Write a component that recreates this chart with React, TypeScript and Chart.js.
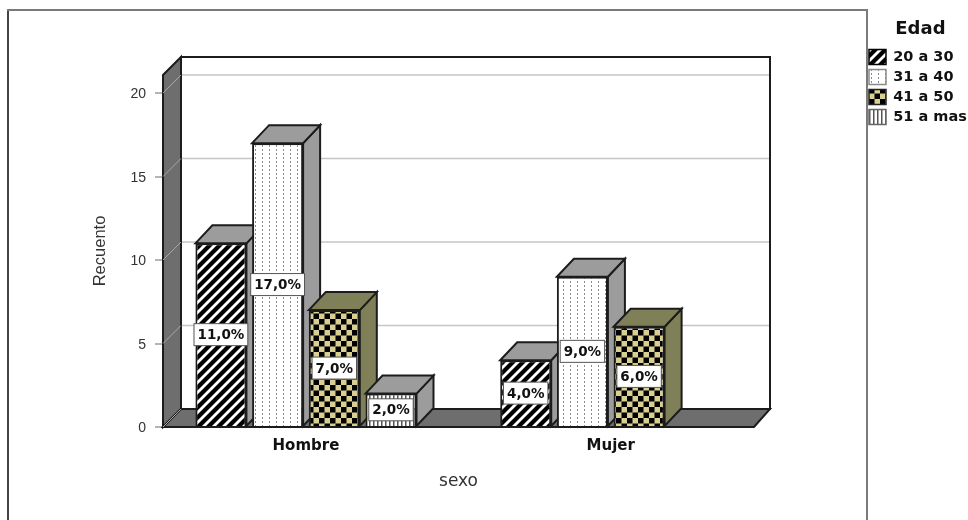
import React, { useEffect, useRef } from "react";
import { Chart, registerables } from "chart.js";

Chart.register(...registerables);

const categories = ["Hombre", "Mujer"];
const ageGroups = ["20 a 30", "31 a 40", "41 a 50", "51 a mas"];
const age20to30 = [11, 4];
const age31to40 = [17, 9];
const age41to50 = [7, 6];
const age51plus = [2, null];
const seriesValues = [age20to30, age31to40, age41to50, age51plus];

const DEPTH_X = 17;
const DEPTH_Y = 18;
const WALL = "#6e6e6e";
const EDGE = "#1c1c1c";
const sideColors = ["#9c9c9c", "#9c9c9c", "#808058", "#9c9c9c"];
const swatchEdges = ["#000", "#8a8a8a", "#222", "#666"];

// Builds a repeating tile for the bar fills.
function tile(w: number, h: number, paint: (c: CanvasRenderingContext2D) => void) {
  const cv = document.createElement("canvas");
  cv.width = w;
  cv.height = h;
  const c = cv.getContext("2d")!;
  paint(c);
  return c.createPattern(cv, "repeat")!;
}

function makePatterns() {
  const stripes = tile(10, 10, (c) => {
    c.fillStyle = "#000";
    c.fillRect(0, 0, 10, 10);
    c.strokeStyle = "#fff";
    c.lineWidth = 2.8;
    for (const o of [-10, 0, 10]) {
      c.beginPath();
      c.moveTo(o - 1, 11);
      c.lineTo(o + 11, -1);
      c.stroke();
    }
  });
  const dots = tile(7, 4, (c) => {
    c.fillStyle = "#fff";
    c.fillRect(0, 0, 7, 4);
    c.fillStyle = "#8a8a8a";
    c.fillRect(3, 1, 1, 2);
  });
  const checks = tile(11, 11, (c) => {
    c.fillStyle = "#d8cf90";
    c.fillRect(0, 0, 11, 11);
    c.fillStyle = "#000";
    c.fillRect(0, 0, 5.5, 5.5);
    c.fillRect(5.5, 5.5, 5.5, 5.5);
  });
  const bars = tile(4, 4, (c) => {
    c.fillStyle = "#fff";
    c.fillRect(0, 0, 4, 4);
    c.fillStyle = "#555";
    c.fillRect(1, 0, 1.5, 4);
  });
  return [stripes, dots, checks, bars];
}

// Outer frame, open along the bottom of the page.
const framePlugin = {
  id: "frame",
  beforeDraw(chart: Chart) {
    const { ctx } = chart;
    ctx.save();
    ctx.lineWidth = 2;
    ctx.strokeStyle = "#7a7a7a";
    ctx.beginPath();
    ctx.moveTo(8, 520);
    ctx.lineTo(8, 10);
    ctx.lineTo(867, 10);
    ctx.lineTo(867, 520);
    ctx.stroke();
    ctx.strokeStyle = "#333";
    ctx.lineWidth = 1.5;
    ctx.beginPath();
    ctx.moveTo(8, 520);
    ctx.lineTo(8, 11);
    ctx.stroke();
    ctx.restore();
  },
};

// Moves the legend into the margin on the right of the frame.
const legendPlacement = {
  id: "legendPlacement",
  afterLayout(chart: Chart) {
    const legend = chart.legend as any;
    const w = legend.width;
    const h = legend.height;
    legend.left = 864;
    legend.right = 864 + w;
    legend.top = 20;
    legend.bottom = 20 + h;
  },
};

function polygon(ctx: CanvasRenderingContext2D, pts: number[][], fill: string) {
  ctx.beginPath();
  pts.forEach(([x, y], i) => (i ? ctx.lineTo(x, y) : ctx.moveTo(x, y)));
  ctx.closePath();
  ctx.fillStyle = fill;
  ctx.fill();
  ctx.stroke();
}

// Draws the box behind the plot and the top and side faces of each bar.
const depthPlugin = {
  id: "depth",
  beforeDatasetsDraw(chart: Chart) {
    const { ctx, chartArea: a, scales } = chart;
    const dx = 18;
    const dy = 18;
    ctx.save();
    ctx.lineJoin = "miter";

    ctx.strokeStyle = EDGE;
    ctx.lineWidth = 2;
    polygon(ctx, [[a.left + dx, a.top - dy], [a.right + dx - 2, a.top - dy], [a.right + dx - 2, a.bottom - dy], [a.left + dx, a.bottom - dy]], "#fff");

    // Grid lines across the back wall.
    const ticks = (scales.y as any).ticks as { value: number }[];
    ctx.lineWidth = 1.5;
    ctx.strokeStyle = "#c6c6c6";
    for (const t of ticks) {
      if (t.value === 0) continue;
      const py = scales.y.getPixelForValue(t.value);
      ctx.beginPath();
      ctx.moveTo(a.left + dx, py - dy);
      ctx.lineTo(a.right + dx - 3, py - dy);
      ctx.stroke();
    }

    ctx.strokeStyle = EDGE;
    ctx.lineWidth = 2;
    polygon(ctx, [[a.left, a.top], [a.left + dx, a.top - dy], [a.left + dx, a.bottom - dy], [a.left, a.bottom]], WALL);
    polygon(ctx, [[a.left, a.bottom], [a.left + dx, a.bottom - dy], [a.right + dx - 2, a.bottom - dy], [a.right, a.bottom]], WALL);

    // Grid lines continuing down the left wall.
    ctx.lineWidth = 1;
    ctx.strokeStyle = "#a9a9a9";
    for (const t of ticks) {
      const py = scales.y.getPixelForValue(t.value);
      ctx.beginPath();
      ctx.moveTo(a.left, py);
      ctx.lineTo(a.left + dx, py - dy);
      ctx.stroke();
    }

    ctx.strokeStyle = EDGE;
    ctx.lineWidth = 2;
    chart.data.datasets.forEach((ds, di) => {
      chart.getDatasetMeta(di).data.forEach((el: any, i: number) => {
        if ((ds.data[i] as any)?.y == null) return;
        const l = el.x - el.width / 2;
        const r = el.x + el.width / 2;
        const t = el.y;
        const b = el.base;
        polygon(ctx, [[r, t], [r + DEPTH_X, t - DEPTH_Y], [r + DEPTH_X, b - DEPTH_Y], [r, b]], sideColors[di]);
        polygon(ctx, [[l, t], [l + DEPTH_X, t - DEPTH_Y], [r + DEPTH_X, t - DEPTH_Y], [r, t]], sideColors[di]);
      });
    });
    ctx.restore();
  },
  // Percentage tag centred on each bar.
  afterDatasetsDraw(chart: Chart) {
    const { ctx } = chart;
    ctx.save();
    ctx.font = "bold 13.5px 'DejaVu Sans'";
    ctx.textAlign = "center";
    ctx.textBaseline = "middle";
    chart.data.datasets.forEach((ds, di) => {
      chart.getDatasetMeta(di).data.forEach((el: any, i: number) => {
        const v = (ds.data[i] as any)?.y;
        if (v == null) return;
        const text = `${v},0%`;
        const w = ctx.measureText(text).width + 7;
        const h = 22;
        const cy = (el.y + el.base) / 2;
        ctx.fillStyle = "#fff";
        ctx.strokeStyle = "#555";
        ctx.lineWidth = 1;
        ctx.fillRect(el.x - w / 2, cy - h / 2, w, h);
        ctx.strokeRect(el.x - w / 2, cy - h / 2, w, h);
        ctx.fillStyle = "#111";
        ctx.fillText(text, el.x, cy + 1);
      });
    });
    ctx.restore();
  },
};

export default function App() {
  const ref = useRef<HTMLCanvasElement>(null);

  useEffect(() => {
    const patterns = makePatterns();
    const chart = new Chart(ref.current!, {
      type: "bar",
      data: {
        datasets: ageGroups.map((label, di) => ({
          label,
          data: seriesValues[di].map((y, x) => ({ x, y })),
          backgroundColor: patterns[di],
          borderColor: EDGE,
          borderWidth: 2,
          categoryPercentage: 0.744,
          barPercentage: 0.9,
        })),
      },
      options: {
        responsive: false,
        animation: false,
        layout: { autoPadding: false, padding: { left: 0, top: 75, right: 214, bottom: 0 } },
        scales: {
          x: {
            type: "linear",
            offset: false,
            min: -0.469,
            max: 1.47,
            afterFit: (s: any) => { s.height = 93; },
            grid: { display: false },
            border: { display: false },
            ticks: {
              stepSize: 1,
              includeBounds: false,
              padding: 2,
              maxRotation: 0,
              autoSkip: false,
              color: "#111",
              font: { family: "'DejaVu Sans'", size: 15, weight: "bold" },
              callback: (v: any) => categories[v] ?? "",
            },
            title: {
              display: true,
              text: "sexo",
              color: "#333",
              font: { family: "'DejaVu Sans'", size: 17 },
              padding: { top: 0, bottom: 28 },
            },
          },
          y: {
            min: 0,
            max: 21.08,
            afterFit: (s: any) => { s.width = 163; },
            grid: { drawOnChartArea: false, tickLength: 8, tickColor: "#b5b5b5", lineWidth: 2 },
            border: { display: false },
            ticks: {
              stepSize: 5,
              includeBounds: false,
              padding: 9,
              labelOffset: 1.5,
              color: "#333",
              font: { family: "'Liberation Sans'", size: 14 },
            },
            title: {
              display: true,
              text: "Recuento",
              color: "#333",
              font: { family: "'Liberation Sans'", size: 16.5 },
              padding: { top: 91, bottom: 0 },
            },
          },
        },
        plugins: {
          tooltip: { enabled: false },
          legend: {
            position: "chartArea",
            align: "start",
            title: {
              display: true,
              text: "Edad",
              color: "#111",
              font: { family: "'DejaVu Sans'", size: 18, weight: "bold" },
              padding: { top: 0, bottom: 3 },
            },
            labels: {
              boxWidth: 17,
              boxHeight: 15,
              padding: 5,
              color: "#111",
              font: { family: "'DejaVu Sans'", size: 14.5, weight: "bold" },
              // Swatches have a thinner outline than the bars.
              generateLabels: (c: Chart) =>
                (Chart.defaults.plugins.legend.labels as any).generateLabels(c).map((item: any, i: number) => ({
                  ...item,
                  lineWidth: 1.5,
                  strokeStyle: swatchEdges[i],
                })),
            },
          },
        },
      } as any,
      plugins: [framePlugin, legendPlacement, depthPlugin],
    });
    return () => chart.destroy();
  }, []);

  return (
    <canvas
      ref={ref}
      width={968}
      height={520}
      style={{ position: "fixed", left: 0, top: 0, width: 968, height: 520, display: "block" }}
    />
  );
}
